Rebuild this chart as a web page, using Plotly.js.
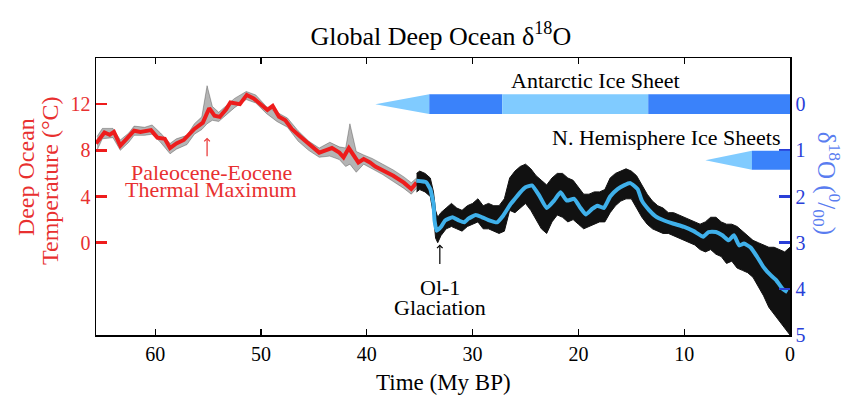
<!DOCTYPE html>
<html>
<head>
<meta charset="utf-8">
<script src="https://cdn.plot.ly/plotly-3.0.1.min.js"></script>
<style>html,body{margin:0;padding:0;background:#fff;}#chart{width:851px;height:399px;}</style>
</head>
<body>
<div id="chart"></div>
<script>
// ---------- data ----------
// Smoothed temperature curve (My BP, deg C), 66-35 My
const redTime = [65.6,65.5,64.8,64.3,63.9,63.3,62.6,62.0,61.4,60.4,59.8,59.1,58.6,58.0,57.3,56.3,55.5,54.9,54.4,53.9,53.3,52.9,52.0,51.35,50.7,50.1,49.4,48.9,48.3,47.7,47.1,46.3,45.3,44.5,43.9,43.3,42.6,42.2,41.7,41.2,40.8,40.3,39.7,39.2,38.4,37.5,36.5,35.8,35.3];
const redTemp = [8.6,8.7,9.55,9.35,9.6,8.4,9.1,9.7,9.6,9.75,9.1,9.0,8.2,8.6,8.9,9.85,10.4,11.65,11.0,10.9,11.55,12.15,12.0,12.8,12.5,12.0,11.5,11.85,10.9,10.6,9.85,9.2,8.4,7.8,8.0,8.2,7.8,7.4,8.2,7.5,6.95,7.25,6.95,6.6,6.25,5.8,5.2,4.65,5.2];

// Smoothed d18O curve (My BP, per mil), 35-0 My
const blueTime = [35.3,34.4,34.0,33.7,33.6,33.4,33.0,32.6,31.9,31.3,30.8,30.4,29.7,29.1,28.5,27.7,27.1,26.4,26.0,25.5,25.0,24.4,23.7,23.0,22.3,21.7,21.1,20.4,19.8,19.3,18.7,18.2,17.6,17.0,16.3,15.7,15.1,14.4,14.0,13.3,12.7,11.9,11.0,10.0,9.1,8.2,7.7,7.0,6.4,5.8,5.3,4.8,4.35,3.7,3.1,2.5,1.8,1.35,0.7,0.25];
const blueD18O = [1.66,1.69,1.84,2.16,2.52,2.74,2.66,2.52,2.45,2.52,2.56,2.48,2.40,2.45,2.51,2.56,2.41,2.16,2.05,1.91,1.80,1.76,1.98,2.25,2.09,1.91,2.09,2.05,2.25,2.39,2.27,2.20,2.25,2.0,1.84,1.76,1.71,1.84,2.09,2.30,2.43,2.52,2.59,2.66,2.75,2.87,2.77,2.77,2.84,2.95,2.84,3.06,3.02,3.11,3.31,3.53,3.71,3.80,4.0,4.07];

// Spread of the raw data points, older part (deg C)
const oldTime = [65.5,65.0,64.0,63.3,62.5,62.0,61.0,60.3,59.5,58.6,58.0,57.0,56.3,55.6,55.1,54.6,54.0,53.3,52.5,51.4,50.5,49.5,48.5,47.5,46.5,45.5,44.5,43.5,42.6,42.0,41.6,41.0,40.3,39.5,38.5,37.5,36.5,35.8,35.3];
const oldHigh = [9.2,9.9,9.9,8.9,9.5,10.1,10.0,10.2,9.5,8.6,9.0,9.3,10.3,10.9,13.6,11.8,11.3,11.9,12.5,13.1,12.8,11.8,11.3,10.8,9.7,8.8,8.2,8.7,8.3,8.2,10.3,7.9,7.6,7.3,6.8,6.3,5.7,5.2,5.6];
const oldLow  = [8.0,9.0,9.1,8.0,8.7,9.3,9.3,9.4,8.7,7.7,8.1,8.5,9.4,9.8,10.3,10.6,10.5,11.1,11.7,12.4,12.1,11.2,10.5,10.0,8.8,8.0,7.4,7.5,7.2,6.6,6.8,6.1,6.8,6.4,5.9,5.3,4.7,4.2,4.7];

// Spread of the raw data points, younger part (per mil)
const denseTime = [35.3,35.0,34.5,34.0,33.7,33.5,33.3,33.0,32.5,32.0,31.5,31.0,30.5,30.0,29.5,29.0,28.5,28.0,27.5,27.0,26.5,26.0,25.5,25.0,24.5,24.0,23.5,23.0,22.5,22.0,21.5,21.0,20.5,20.0,19.5,19.0,18.5,18.0,17.5,17.0,16.5,16.0,15.5,15.0,14.5,14.0,13.5,13.0,12.5,12.0,11.5,11.0,10.5,10.0,9.5,9.0,8.5,8.0,7.5,7.0,6.5,6.0,5.5,5.0,4.5,4.0,3.5,3.0,2.5,2.0,1.5,1.0,0.5,0.0];
const denseTop = [1.5,1.45,1.5,1.6,1.9,2.3,2.45,2.35,2.25,2.15,2.25,2.3,2.2,2.15,2.05,2.2,2.15,2.2,2.2,2.05,1.6,1.45,1.35,1.3,1.4,1.55,1.65,1.75,1.6,1.5,1.5,1.6,1.65,1.8,1.95,1.95,1.9,1.9,1.85,1.6,1.5,1.45,1.4,1.45,1.55,1.75,1.95,2.1,2.2,2.25,2.35,2.35,2.4,2.45,2.5,2.55,2.6,2.55,2.45,2.45,2.55,2.6,2.6,2.65,2.75,2.85,2.95,3.0,3.05,3.1,3.1,3.15,3.2,3.1];
const denseBottom = [1.9,1.85,1.90,2.0,2.4,2.9,3.0,2.85,2.7,2.65,2.7,2.75,2.65,2.6,2.55,2.7,2.7,2.75,2.8,2.75,2.3,2.35,2.25,2.15,2.3,2.5,2.7,2.8,2.55,2.4,2.45,2.55,2.5,2.6,2.7,2.65,2.6,2.55,2.55,2.35,2.2,2.1,2.05,2.05,2.25,2.45,2.6,2.7,2.75,2.8,2.8,2.85,2.9,2.95,3.0,3.05,3.15,3.2,3.15,3.25,3.3,3.45,3.4,3.55,3.6,3.65,3.75,3.95,4.15,4.4,4.55,4.7,4.85,5.0];

// Ice sheet phases (My BP); kind: 'onset' (tapered), 'partial' (light), 'full' (dark)
const antarcticStart = [39.2, 34.1, 27.2, 13.4];
const antarcticEnd   = [34.1, 27.2, 13.4, 0.0];
const antarcticKind  = ['onset', 'full', 'partial', 'full'];
const nhStart = [8.0, 3.6];
const nhEnd   = [3.6, 0.0];
const nhKind  = ['onset', 'full'];

// Axis ticks
const timeTicks = [60, 50, 40, 30, 20, 10, 0];
const tempTicks = [0, 4, 8, 12];
const d18OTicks = [0, 1, 2, 3, 4, 5];

// ---------- styling ----------
const SERIF = 'Liberation Serif';
const RED = '#ee1c1c';
const RED_TXT = '#e83030';
const BLUE_LINE = '#3fb0ea';
const BLUE_TICK = '#2a3fd8';
const BLUE_TITLE = '#5a7df0';
const ICE_DARK = '#3a82fa';
const ICE_LIGHT = '#80cbff';

const traces = [
  {x: oldTime, y: oldHigh, mode: 'lines', line: {color: 'rgba(30,30,30,0.55)', width: 0.6}, hoverinfo: 'skip', showlegend: false, yaxis: 'y'},
  {x: oldTime, y: oldLow, mode: 'lines', fill: 'tonexty', fillcolor: 'rgba(40,40,40,0.35)', line: {color: 'rgba(30,30,30,0.55)', width: 0.6}, hoverinfo: 'skip', showlegend: false, yaxis: 'y'},
  {x: denseTime, y: denseTop, mode: 'lines', line: {color: '#111', width: 1}, hoverinfo: 'skip', showlegend: false, yaxis: 'y2'},
  {x: denseTime, y: denseBottom, mode: 'lines', fill: 'tonexty', fillcolor: '#111', line: {color: '#111', width: 1}, hoverinfo: 'skip', showlegend: false, yaxis: 'y2'},
  {x: redTime, y: redTemp, mode: 'lines', line: {color: RED, width: 4}, showlegend: false, yaxis: 'y'},
  {x: blueTime, y: blueD18O, mode: 'lines', line: {color: BLUE_LINE, width: 4, shape: 'spline', smoothing: 0.4}, showlegend: false, yaxis: 'y2'}
];

function iceShapes(starts, ends, kinds, center, half) {
  const out = [];
  for (let i = 0; i < starts.length; i++) {
    const k = kinds[i];
    if (k === 'onset') {
      out.push({type: 'path', xref: 'x', yref: 'y2',
        path: `M${starts[i]},${center} L${ends[i]},${center - half} L${ends[i]},${center + half} Z`,
        fillcolor: ICE_LIGHT, line: {width: 0}});
    } else {
      out.push({type: 'rect', xref: 'x', yref: 'y2', x0: starts[i], x1: ends[i],
        y0: center - half, y1: center + half,
        fillcolor: k === 'full' ? ICE_DARK : ICE_LIGHT, line: {width: 0}});
    }
  }
  return out;
}
const shapes = iceShapes(antarcticStart, antarcticEnd, antarcticKind, 0.0, 0.215)
  .concat(iceShapes(nhStart, nhEnd, nhKind, 1.215, 0.205));

const txt = (s, c) => ({family: SERIF, size: s, color: c});
const annotations = [
  {xref: 'paper', yref: 'paper', x: 0, y: 0.570, xshift: -70, text: 'Deep Ocean', textangle: -90, showarrow: false, font: txt(24, RED_TXT), xanchor: 'center', yanchor: 'middle'},
  {xref: 'paper', yref: 'paper', x: 0, y: 0.556, xshift: -46, text: 'Temperature (°C)', textangle: -90, showarrow: false, font: txt(24, RED_TXT), xanchor: 'center', yanchor: 'middle'},
  {xref: 'paper', yref: 'paper', x: 1, y: 0.55, xshift: 37, text: 'δ<sup>18</sup>O (<sup>0</sup>/<sub>00</sub>)', textangle: 90, showarrow: false, font: txt(25, BLUE_TITLE), xanchor: 'center', yanchor: 'middle'},
  {xref: 'paper', yref: 'paper', x: 0.5, y: -0.17, text: 'Time (My BP)', showarrow: false, font: txt(23, '#000'), xanchor: 'center', yanchor: 'middle'},
  {xref: 'x', yref: 'y2', x: 18.35, y: -0.52, text: 'Antarctic Ice Sheet', showarrow: false, font: txt(22, '#000'), xanchor: 'center', yanchor: 'middle'},
  {xref: 'x', yref: 'y2', x: 11.7, y: 0.73, text: 'N. Hemisphere Ice Sheets', showarrow: false, font: txt(22, '#000'), xanchor: 'center', yanchor: 'middle'},
  {xref: 'x', yref: 'y', x: 54.7, y: 6.07, text: 'Paleocene-Eocene', showarrow: false, font: txt(22, RED_TXT), xanchor: 'center', yanchor: 'middle'},
  {xref: 'x', yref: 'y', x: 54.7, y: 4.6, text: 'Thermal Maximum', showarrow: false, font: txt(22, RED_TXT), xanchor: 'center', yanchor: 'middle'},
  {xref: 'x', yref: 'y', x: 55.1, y: 9.1, ax: 0, ay: 20, text: '', showarrow: true, arrowhead: 4, arrowsize: 0.9, arrowwidth: 1.2, arrowcolor: RED_TXT},
  {xref: 'x', yref: 'y2', x: 33.1, y: 3.97, text: 'Ol-1', showarrow: false, font: txt(22, '#000'), xanchor: 'center', yanchor: 'middle'},
  {xref: 'x', yref: 'y2', x: 33.1, y: 4.4, text: 'Glaciation', showarrow: false, font: txt(22, '#000'), xanchor: 'center', yanchor: 'middle'},
  {xref: 'x', yref: 'y2', x: 33.1, y: 3.04, ax: 0, ay: 21, text: '', showarrow: true, arrowhead: 4, arrowsize: 0.9, arrowwidth: 1.2, arrowcolor: '#000'}
];

const layout = {
  width: 851, height: 399,
  margin: {l: 96, r: 61, t: 58, b: 64},
  paper_bgcolor: '#fff', plot_bgcolor: '#fff',
  showlegend: false,
  font: {family: SERIF},
  title: {text: 'Global Deep Ocean δ<sup>18</sup>O', font: txt(26, '#000'), x: 0.518, xref: 'container', xanchor: 'center', y: 0.91, yref: 'container', yanchor: 'middle'},
  xaxis: {range: [65.6, 0], tickvals: timeTicks, ticks: 'inside', ticklen: 6, tickwidth: 1.2, tickcolor: '#000',
    showline: true, linecolor: '#000', linewidth: 1.5, mirror: 'ticks', showgrid: false, zeroline: false,
    tickfont: txt(20, '#000')},
  yaxis: {range: [-8, 16], tickvals: tempTicks, ticks: 'inside', ticklen: 11, tickwidth: 2.6, tickcolor: RED,
    showline: true, linecolor: '#000', linewidth: 1.5, mirror: true, showgrid: false, zeroline: false,
    tickfont: txt(20, RED_TXT)},
  yaxis2: {range: [5, -1], tickvals: d18OTicks, overlaying: 'y', side: 'right', ticks: 'inside', ticklen: 11, tickwidth: 2.6, tickcolor: BLUE_TICK,
    showline: true, linecolor: '#000', linewidth: 1.5, showgrid: false, zeroline: false,
    tickfont: txt(20, BLUE_TICK)},
  shapes: shapes,
  annotations: annotations
};

Plotly.newPlot('chart', traces, layout, {staticPlot: true, displayModeBar: false});
</script>
</body>
</html>
